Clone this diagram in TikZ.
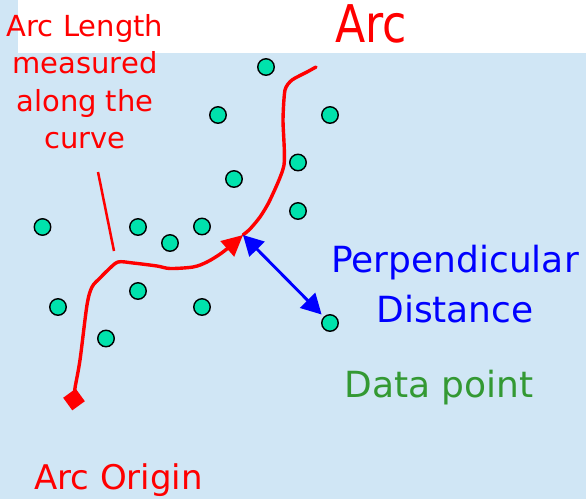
\documentclass[tikz,border=0pt]{standalone}
\usepackage{fontspec}
\setmainfont{DejaVu Sans}
\newfontfamily\narrowfont{DejaVu Sans}[FakeStretch=0.85]
\usetikzlibrary{arrows.meta}
\definecolor{bg}{RGB}{208,230,245}
\definecolor{dot}{RGB}{0,226,172}
\definecolor{dgreen}{RGB}{51,153,51}
\begin{document}
\begin{tikzpicture}[x=1pt,y=-1pt,
  datapt/.style={circle,draw=black,line width=1.4pt,fill=dot,minimum size=16.5pt,inner sep=0pt},
  arcline/.style={red,line width=3.4pt,line join=round,line cap=round},
  lbl/.style={inner sep=0pt,anchor=base},
  mlbl/.style={inner sep=0pt,anchor=north,align=center}]
\useasboundingbox (0,0) rectangle (586,499);
\fill[bg] (0,0) rectangle (586,499);
\fill[white] (18,0) rectangle (586,53);
% data points
\node[datapt] (p1) at (266,67) {};
\node[datapt] (p2) at (218,115) {};
\node[datapt] (p3) at (330,115) {};
\node[datapt] (p4) at (298,162.5) {};
\node[datapt] (p5) at (234,179) {};
\node[datapt] (p6) at (298,211) {};
\node[datapt] (p7) at (42.5,227) {};
\node[datapt] (p8) at (138,227) {};
\node[datapt] (p9) at (202,226.5) {};
\node[datapt] (p10) at (170,243) {};
\node[datapt] (p11) at (138,291) {};
\node[datapt] (p12) at (58,307) {};
\node[datapt] (p13) at (202,307) {};
\node[datapt] (p14) at (106,338.5) {};
\node[datapt] (p15) at (330,323) {};
% arc origin marker
\node[fill=red,minimum size=15.5pt,inner sep=0pt,rotate=36] (origin) at (74,399.5) {};
% key points of the arc
\coordinate (tip) at (243,235);
\coordinate (arcend) at (316,67);
\draw[arcline,-{Triangle[length=21pt,width=20pt]}] plot[smooth,tension=0.5] coordinates {(origin.center) (75,388) (80,360) (87,305) (92,287) (100,278) (108,270) (118,262) (133,263) (157,266) (170,268.5) (193,267) (207,262) (223,252) (tip)};
\draw[arcline] plot[smooth,tension=0.4] coordinates {(tip) (250,229) (260,217) (270,200) (284,165) (283,120) (285,90) (292,80) (307,72) (arcend)};
% perpendicular distance
\draw[blue,line width=2.9pt,{Triangle[length=20pt,width=21pt]}-{Triangle[length=20pt,width=21pt]},shorten >=3pt] (tip) -- (p15);
% pointer for arc length
\coordinate (ptrA) at (98,172);
\coordinate (ptrB) at (114,251);
\draw[red,line width=2.5pt] (ptrA) -- (ptrB);
% labels
\node[lbl,text=red,font=\narrowfont\fontsize{52}{60}\selectfont] (arc) at (371,42) {Arc};
\node[mlbl,text=red,font=\fontsize{29}{37.5}\selectfont] (arclen) at (85,14) {Arc Length\\measured\\along the\\curve};
\node[mlbl,text=blue,font=\fontsize{36}{50}\selectfont] (perp) at (455,244.6) {Perpendicular\\Distance};
\node[lbl,text=dgreen,font=\fontsize{36}{43}\selectfont] (dp) at (439,397) {Data point};
\node[lbl,text=red,font=\fontsize{34}{40}\selectfont] (ao) at (118.5,489) {Arc Origin};
\end{tikzpicture}
\end{document}
